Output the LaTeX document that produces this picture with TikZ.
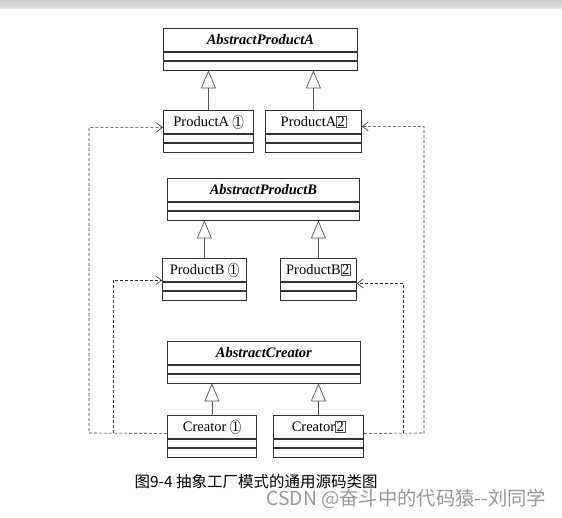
\documentclass[tikz,border=0pt]{standalone}
\usepackage{fontspec}
\setmainfont{Liberation Serif}
\newfontfamily\cjk{Noto Sans CJK SC}
\usetikzlibrary{positioning,arrows.meta,shapes.geometric}

% circled and boxed numbers
\newcommand{\cnum}[1]{\tikz[baseline]\node[anchor=base,draw=black!70,ellipse,inner sep=0pt,line width=0.5pt,minimum width=9pt,minimum height=14pt]{#1};}
\newcommand{\bnum}[1]{\tikz[baseline]\node[anchor=base,draw=black!70,rectangle,inner sep=1pt,line width=0.5pt,minimum width=0pt,minimum height=0pt]{#1};}

\begin{document}
\begin{tikzpicture}[x=1pt,y=-1pt,font=\fontsize{14.5}{16}\selectfont,
classhead/.style={draw=black!80,line width=0.8pt,rectangle,inner sep=0pt,minimum height=23pt,anchor=north west},
classpart/.style={draw=black!80,line width=0.8pt,rectangle,inner sep=0pt,minimum height=8.5pt},
inherit/.style={draw=black!65,line width=0.7pt,-{Triangle[open,length=18pt,width=15pt]}},
depend/.style={draw=black!80,line width=0.6pt,dash pattern=on 3pt off 2pt,-{Straight Barb[length=6pt,width=9pt]}}]
\useasboundingbox (0,0) rectangle (562,518);
\fill[white] (0,0) rectangle (562,518);
\shade[top color=gray!40,bottom color=gray!20] (0,0) rectangle (562,9);

% class heads
\node[classhead,minimum width=194pt] (apa) at (163,28) {\textbf{\textit{AbstractProductA}}};
\node[classhead,minimum width=90pt] (pa1) at (163,110) {ProductA \cnum{1}};
\node[classhead,minimum width=96pt] (pa2) at (265,110) {ProductA\bnum{2}};
\node[classhead,minimum width=192pt] (apb) at (167,178) {\textbf{\textit{AbstractProductB}}};
\node[classhead,minimum width=84pt] (pb1) at (162,258) {ProductB \cnum{1}};
\node[classhead,minimum width=76pt] (pb2) at (280,258) {ProductB\bnum{2}};
\node[classhead,minimum width=193pt] (ac) at (167,341) {\textbf{\textit{AbstractCreator}}};
\node[classhead,minimum width=89pt] (c1) at (167,415) {Creator \cnum{1}};
\node[classhead,minimum width=90pt] (c2) at (273,415) {Creator\bnum{2}};

% attribute and operation parts
\foreach \nm/\w in {apa/194,pa1/90,pa2/96,apb/192,pb1/84,pb2/76,ac/193,c1/89,c2/90}{
  \node[classpart,minimum width=\w pt,below=0pt of \nm] (\nm a) {};
  \node[classpart,minimum width=\w pt,below=0pt of \nm a] (\nm b) {};
}

% generalization
\draw[inherit] (pa1.north) -- (pa1.north |- apab.south);
\draw[inherit] (pa2.north) -- (pa2.north |- apab.south);
\draw[inherit] (pb1.north) -- (pb1.north |- apbb.south);
\draw[inherit] (pb2.north) -- (pb2.north |- apbb.south);
\draw[inherit] (c1.north) -- (c1.north |- acb.south);
\draw[inherit] (c2.north) -- (c2.north |- acb.south);

% dependencies
\coordinate (lout) at (89,433);
\coordinate (lin) at (113,433);
\coordinate (rin) at (403,433);
\coordinate (rout) at (424,433);
\draw[depend] ([yshift=-6.5pt]c1.west) -- (lout) |- ([yshift=-5.5pt]pa1.west);
\draw[depend] (lin) |- ([yshift=-10.5pt]pb1.west);
\draw[depend] ([yshift=-6.5pt]c2.east) -- (rout) |- ([yshift=-4.5pt]pa2.east);
\draw[depend] (rin) |- ([yshift=-13.5pt]pb2.east);

% caption
\node[anchor=west,font=\cjk\fontsize{15.5}{17}\selectfont] (cap) at (131,482) {图9-4 抽象工厂模式的通用源码类图};
\node[anchor=west,text=black!40,font=\cjk\fontsize{19.3}{21}\selectfont] (mark) at (263,499) {CSDN @奋斗中的代码猿--刘同学};
\end{tikzpicture}
\end{document}
